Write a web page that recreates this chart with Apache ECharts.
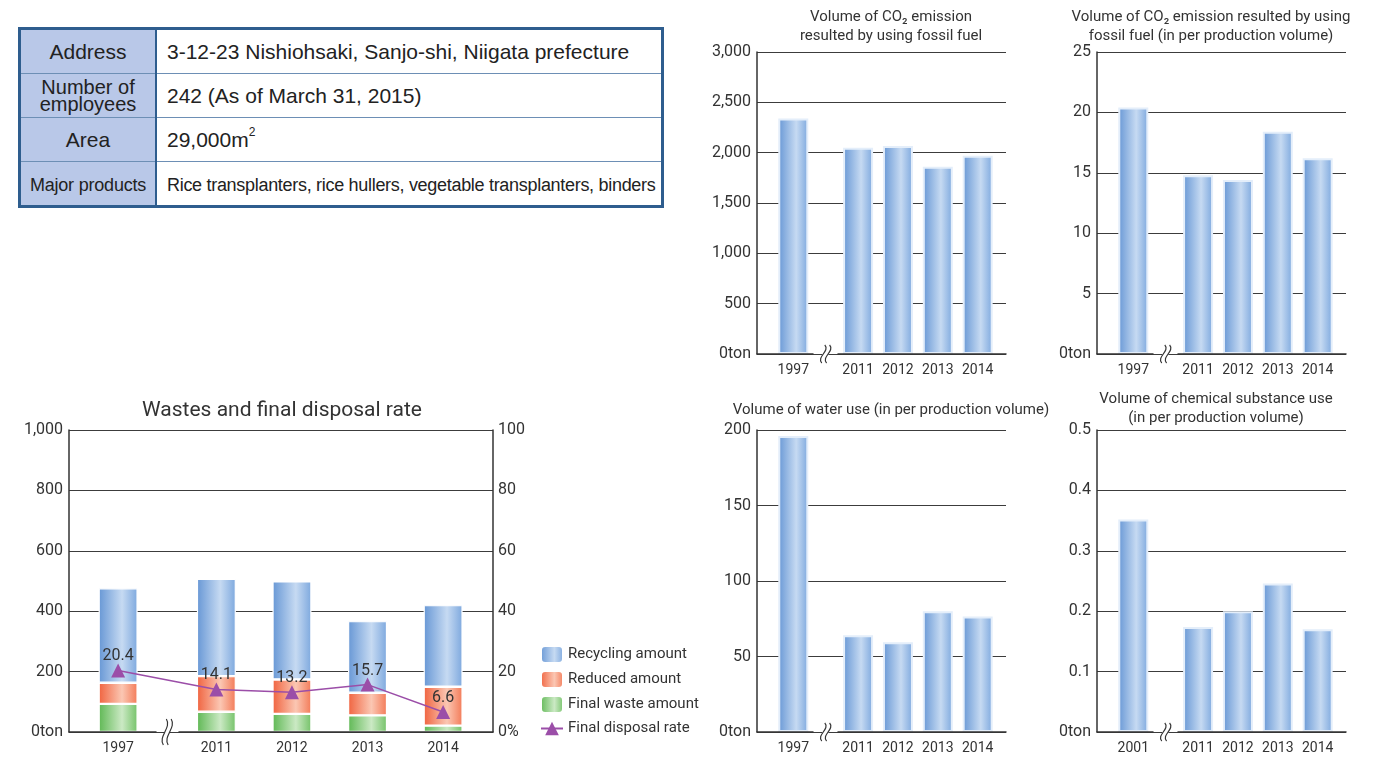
<!DOCTYPE html>
<html><head><meta charset="utf-8">
<script src="https://cdn.jsdelivr.net/npm/echarts@6/dist/echarts.min.js"></script>
<style>
html,body{margin:0;padding:0;background:#fff;}
#chart{position:absolute;left:0;top:0;width:1386px;height:761px;}
#info{position:absolute;left:18px;top:27px;border-collapse:collapse;border:3px solid #2e5d8e;font-family:"Liberation Sans",Arial,sans-serif;color:#222;z-index:2;background:#fff;}
#info td{border:1px solid #6d8fb5;height:43px;padding:0;}
#info td.h{background:#b9c8e8;width:134px;text-align:center;font-size:21px;border-right:2px solid #2e5d8e;}
#info td.v{padding-left:10px;font-size:21px;width:494px;}
#info .two{font-size:20px;line-height:17px;}
#info .narrow{font-size:18px;letter-spacing:-0.3px;}
#info .narrow2{font-size:18px;letter-spacing:-0.2px;}
sup{font-size:12px;vertical-align:top;position:relative;top:-3px;}
</style></head>
<body>
<div id="chart"></div>
<table id="info">
<tr><td class="h">Address</td><td class="v">3-12-23 Nishiohsaki, Sanjo-shi, Niigata prefecture</td></tr>
<tr><td class="h"><div class="two">Number of<br>employees</div></td><td class="v">242 (As of March 31, 2015)</td></tr>
<tr><td class="h">Area</td><td class="v">29,000m<sup>2</sup></td></tr>
<tr><td class="h"><span class="narrow2">Major products</span></td><td class="v"><span class="narrow">Rice transplanters, rice hullers, vegetable transplanters, binders</span></td></tr>
</table>
<script>
// ---- data ----
const years = [1997, 2011, 2012, 2013, 2014];
const chemYears = [2001, 2011, 2012, 2013, 2014];
const recyclingAmount = [313, 322, 325, 237, 270];
const reducedAmount = [70, 118, 114, 75, 129];
const finalWasteAmount = [93, 67, 60, 55, 21];
const finalDisposalRate = [20.4, 14.1, 13.2, 15.7, 6.6];
const co2Emission = [2340, 2050, 2065, 1860, 1970];
const co2PerProduction = [20.4, 14.8, 14.4, 18.4, 16.2];
const waterPerProduction = [196, 64, 59.5, 80, 76.5];
const chemicalPerProduction = [0.352, 0.174, 0.2, 0.246, 0.17];

const wasteLegend = ['Recycling amount', 'Reduced amount', 'Final waste amount', 'Final disposal rate'];

// ---- helpers ----
// rows are [value, year] so that the value dimension is the one ECharts stacks
const rows = (xs, ys) => xs.map((x, i) => [ys[i], x]);
const FONT = 'Roboto, "Liberation Sans", sans-serif';
const TXT = '#333';
const chart = echarts.init(document.getElementById('chart'));
const grad = (a, b, c) => new echarts.graphic.LinearGradient(0, 0, 1, 0, [
  {offset: 0, color: a}, {offset: 0.6, color: b}, {offset: 1, color: c}]);
const blue = grad('#6797d5', '#c6daf2', '#7da8de');
const orange = grad('#f0633f', '#fbc7b3', '#f37a57');
const green = grad('#5fb854', '#cbe9c4', '#74c268');
const purple = '#9b4ea8';

function xAxisCfg(grid, cats, min, max, gap) {
  return {
    type: 'value', gridIndex: grid, min: min, max: max,
    breaks: [{start: cats[0] + 0.5, end: 2010.5, gap: gap}],
    breakArea: {show: false},
    axisLine: {show: true, lineStyle: {color: '#333', width: 1.5}},
    axisTick: {show: false},
    splitLine: {show: false},
    axisLabel: {customValues: cats, color: TXT, fontSize: 14, margin: 9, fontFamily: FONT,
      formatter: v => String(v)},
    z: 5
  };
}
function yAxisCfg(grid, max, interval, fmt, extra) {
  return Object.assign({
    type: 'value', gridIndex: grid, min: 0, max: max, interval: interval,
    axisLine: {show: true, lineStyle: {color: '#333', width: 1.5}},
    axisTick: {show: false},
    splitLine: {show: true, lineStyle: {color: '#3c3c3c', width: 1}},
    axisLabel: {color: TXT, fontSize: 16, margin: 6, fontFamily: FONT, formatter: fmt}
  }, extra || {});
}
const tonFmt = v => v === 0 ? '0ton' : v.toLocaleString('en-US');
const decFmt = v => v === 0 ? '0ton' : String(+v.toFixed(2));

function singleBar(xi, yi, cats, vals) {
  return {type: 'bar', xAxisIndex: xi, yAxisIndex: yi, data: rows(cats, vals), encode: {x: 1, y: 0},
    barWidth: 30, itemStyle: {color: blue, borderColor: '#e4eefa', borderWidth: 2}, silent: true};
}
function stackBar(name, vals, color) {
  return {name: name, type: 'bar', stack: 'w', xAxisIndex: 0, yAxisIndex: 0, barWidth: 39,
    data: rows(years, vals), encode: {x: 1, y: 0},
    itemStyle: {color: color, borderColor: '#fff', borderWidth: 1.2}};
}
function titleCfg(text, x, top, size) {
  return {text: text, left: x, top: top, textAlign: 'center',
    textStyle: {fontSize: size, fontWeight: 'normal', color: TXT, fontFamily: FONT, lineHeight: size + 4}};
}

const option = {
  animation: false,
  title: [
    titleCfg('Wastes and final disposal rate', 277, 393, 21),
    titleCfg('Volume of CO\u2082 emission\nresulted by using fossil fuel', 886, 3, 15),
    titleCfg('Volume of CO\u2082 emission resulted by using\nfossil fuel (in per production volume)', 1206, 3, 15),
    titleCfg('Volume of water use (in per production volume)', 886, 396, 15),
    titleCfg('Volume of chemical substance use\n(in per production volume)', 1211, 385, 15)
  ],
  legend: {
    data: wasteLegend, orient: 'vertical', left: 540, top: 645, padding: 0,
    itemWidth: 22, itemHeight: 17, itemGap: 6, selectedMode: false,
    textStyle: {fontSize: 15, color: TXT, fontFamily: FONT, lineHeight: 17}
  },
  grid: [
    {left: 69, top: 430, width: 424, height: 302},
    {left: 757, top: 52, width: 249, height: 302},
    {left: 1097, top: 52, width: 249, height: 302},
    {left: 757, top: 430, width: 249, height: 302},
    {left: 1097, top: 430, width: 249, height: 302}
  ],
  xAxis: [
    xAxisCfg(0, years, 1996.35, 2014.66, 0.3),
    xAxisCfg(1, years, 1996.09, 2014.71, 0.625),
    xAxisCfg(2, years, 1996.09, 2014.71, 0.625),
    xAxisCfg(3, years, 1996.09, 2014.71, 0.625),
    xAxisCfg(4, chemYears, 2000.09, 2014.71, 0.625)
  ],
  yAxis: [
    yAxisCfg(0, 1000, 200, tonFmt),
    yAxisCfg(0, 100, 20, null, {position: 'right', splitLine: {show: false},
      axisLabel: {color: TXT, fontSize: 16, margin: 5, fontFamily: FONT, formatter: v => v === 0 ? '0%' : String(v)}}),
    yAxisCfg(1, 3000, 500, tonFmt),
    yAxisCfg(2, 25, 5, tonFmt),
    yAxisCfg(3, 200, 50, tonFmt),
    yAxisCfg(4, 0.5, 0.1, decFmt)
  ],
  series: [
    stackBar('Final waste amount', finalWasteAmount, green),
    stackBar('Reduced amount', reducedAmount, orange),
    stackBar('Recycling amount', recyclingAmount, blue),
    {name: 'Final disposal rate', type: 'line', xAxisIndex: 0, yAxisIndex: 1,
      data: rows(years, finalDisposalRate), encode: {x: 1, y: 0}, symbol: 'triangle', symbolSize: 14,
      lineStyle: {color: purple, width: 1.5}, itemStyle: {color: purple},
      label: {show: true, position: 'top', distance: -1, color: TXT, fontSize: 16, fontFamily: FONT,
        formatter: p => p.value[0].toFixed(1)}, z: 10},
    singleBar(1, 2, years, co2Emission),
    singleBar(2, 3, years, co2PerProduction),
    singleBar(3, 4, years, waterPerProduction),
    singleBar(4, 5, chemYears, chemicalPerProduction)
  ]
};
chart.setOption(option);

// break marks (decoration) at the axis break positions
function breakMark(xi, yi, first, h) {
  const p1 = chart.convertToPixel({xAxisIndex: xi}, first + 0.5);
  const p2 = chart.convertToPixel({xAxisIndex: xi}, 2010.5);
  const x = (p1 + p2) / 2;
  const y = chart.convertToPixel({yAxisIndex: yi}, 0);
  const curve = (dx, stroke, w) => ({
    type: 'bezierCurve',
    shape: {x1: dx + 1.5, y1: -h / 2, cpx1: dx + 7, cpy1: -h / 6, cpx2: dx - 7, cpy2: h / 6, x2: dx - 1.5, y2: h / 2},
    style: {stroke: stroke, lineWidth: w, fill: null}
  });
  return {type: 'group', x: x, y: y, z: 100, children: [
    curve(0, '#fff', 5), curve(-2.4, '#333', 1.2), curve(2.4, '#333', 1.2)
  ]};
}
chart.setOption({graphic: [
  breakMark(0, 0, years[0], 26),
  breakMark(1, 2, years[0], 18),
  breakMark(2, 3, years[0], 18),
  breakMark(3, 4, years[0], 18),
  breakMark(4, 5, chemYears[0], 18)
]});
</script>
</body></html>
